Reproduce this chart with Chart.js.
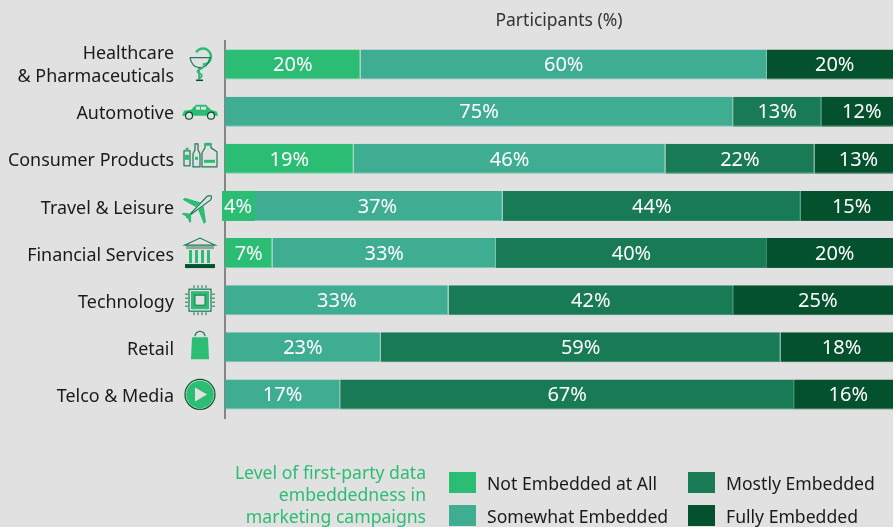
<!DOCTYPE html>
<html>
<head>
<meta charset="utf-8">
<style>
  html, body { margin: 0; padding: 0; background: #e1e1e1; overflow: hidden; }
  #wrap { width: 893px; height: 527px; }
</style>
<script src="https://cdn.jsdelivr.net/npm/chart.js@4"></script>
</head>
<body>
<div id="wrap"><canvas id="chart" width="893" height="527"></canvas></div>
<script>
const categories = [
  ['Healthcare', '& Pharmaceuticals'], 'Automotive', 'Consumer Products', 'Travel & Leisure',
  'Financial Services', 'Technology', 'Retail', 'Telco & Media'
];
const notEmbedded = [20, 0, 19, 4, 7, 0, 0, 0];
const somewhatEmbedded = [60, 75, 46, 37, 33, 33, 23, 17];
const mostlyEmbedded = [0, 13, 22, 44, 40, 42, 59, 67];
const fullyEmbedded = [20, 12, 13, 15, 20, 25, 18, 16];
const legendTitle = ['Level of first-party data', 'embeddedness in', 'marketing campaigns'];
const axisTitle = 'Participants (%)';

const GREEN = '#2bbd73', TEAL = '#3fad91', MID = '#197a56', DARK = '#03522d';
const FONT = '"Noto Sans", sans-serif';

function makeSet(label, data, color, edge) {
  return {
    label, data, backgroundColor: color, borderColor: edge,
    borderWidth: { top: 0, left: 0, right: 1, bottom: 1 }, borderSkipped: false, stack: 'a'
  };
}

// white % labels in the middle of each segment
const barLabels = {
  id: 'barLabels',
  afterDraw(chart) {
    const ctx = chart.ctx;
    const x = chart.scales.x;
    ctx.save();
    ctx.font = '20px ' + FONT;
    ctx.fillStyle = '#fff';
    ctx.textAlign = 'center';
    ctx.textBaseline = 'middle';
    chart.data.labels.forEach((c, i) => {
      let sum = 0;
      chart.data.datasets.forEach((ds, d) => {
        const v = ds.data[i];
        if (v > 0) {
          const px = x.getPixelForValue(sum + v / 2);
          const py = chart.getDatasetMeta(d).data[i].y;
          // the 4% segment is too narrow, so its label gets a green patch
          if (v < 5) {
            ctx.fillStyle = ds.backgroundColor;
            ctx.fillRect(222, py - 15, 33, 30);
            ctx.fillStyle = '#fff';
            ctx.fillText(v + '%', 238, py + 1);
          } else {
            ctx.fillText(v + '%', px, py + 1);
          }
        }
        sum += v;
      });
    });
    ctx.restore();
  }
};

// nudge the category labels down, the font sits high in its line box
const tickNudge = {
  id: 'tickNudge',
  beforeDraw(chart) {
    chart.scales.y.getLabelItems().forEach((item, i) => {
      item.options.translation[1] += i === 0 ? 1 : 2.5;
    });
  }
};

// icons next to the category labels
function drawIcon(ctx, i, cx, cy) {
  ctx.save();
  ctx.translate(cx, cy);
  ctx.lineWidth = 1.2;
  ctx.strokeStyle = MID;
  ctx.fillStyle = GREEN;
  const rect = (x, y, w, h, fill) => { ctx.fillStyle = fill || GREEN; ctx.fillRect(x, y, w, h); };
  if (i === 0) { // bowl of hygieia
    ctx.strokeStyle = GREEN; ctx.lineWidth = 2.5;
    ctx.beginPath(); ctx.arc(3, -8, 8, -2.6, 1.6); ctx.stroke();
    ctx.strokeStyle = MID; ctx.lineWidth = 1.2;
    ctx.beginPath(); ctx.moveTo(-10, -7); ctx.lineTo(10, -7); ctx.quadraticCurveTo(8, 3, 0, 3); ctx.quadraticCurveTo(-8, 3, -10, -7); ctx.stroke();
    ctx.beginPath(); ctx.moveTo(-1, 3); ctx.lineTo(-1, 15); ctx.stroke();
    ctx.strokeStyle = GREEN; ctx.lineWidth = 2;
    ctx.beginPath(); ctx.moveTo(3, 3); ctx.quadraticCurveTo(-6, 7, 0, 9); ctx.quadraticCurveTo(4, 11, -1, 14); ctx.stroke();
    rect(-4, 15, 7, 1.5, DARK);
  } else if (i === 1) { // car
    ctx.translate(0, 1);
    ctx.beginPath(); ctx.moveTo(-18, 3); ctx.lineTo(-16, -2); ctx.lineTo(-9, -3); ctx.lineTo(-4, -8); ctx.lineTo(6, -8); ctx.lineTo(11, -3); ctx.lineTo(17, -1); ctx.lineTo(18, 3); ctx.closePath(); ctx.fill();
    rect(-4, -6, 4, 3, '#e1e1e1'); rect(1, -6, 5, 3, '#e1e1e1');
    [-11, 11].forEach(w => { ctx.beginPath(); ctx.arc(w, 3, 3.5, 0, 7); ctx.fillStyle = '#e1e1e1'; ctx.fill(); ctx.strokeStyle = DARK; ctx.stroke(); });
  } else if (i === 2) { // bottles
    ctx.translate(0, -2);
    ctx.strokeStyle = MID;
    ctx.strokeRect(-16, -6, 6, 15); rect(-15, -2, 4, 5); rect(-14.5, -9, 3, 3);
    ctx.beginPath(); ctx.moveTo(-7, 10); ctx.lineTo(-7, -3); ctx.lineTo(-5, -7); ctx.lineTo(-5, -13); ctx.lineTo(-2, -13); ctx.lineTo(-2, -7); ctx.lineTo(0, -3); ctx.lineTo(0, 10); ctx.closePath(); ctx.stroke();
    rect(-5, 0, 3, 3);
    ctx.beginPath(); ctx.moveTo(2, 10); ctx.lineTo(2, -4); ctx.lineTo(5, -9); ctx.lineTo(5, -13); ctx.lineTo(11, -13); ctx.lineTo(11, -9); ctx.lineTo(17, -5); ctx.lineTo(17, 10); ctx.closePath(); ctx.stroke();
    rect(4, 3, 11, 3); rect(5, -14, 6, 3);
  } else if (i === 3) { // plane
    ctx.rotate(-0.72);
    ctx.strokeStyle = MID;
    ctx.beginPath(); ctx.moveTo(-18, 0); ctx.lineTo(12, -2.5); ctx.quadraticCurveTo(18, 0, 12, 2.5); ctx.closePath(); ctx.stroke();
    ctx.fillStyle = GREEN;
    ctx.beginPath(); ctx.moveTo(3, -2); ctx.lineTo(-6, -16); ctx.lineTo(-9, -16); ctx.lineTo(-4, -2); ctx.closePath(); ctx.fill();
    ctx.beginPath(); ctx.moveTo(3, 2); ctx.lineTo(-6, 16); ctx.lineTo(-9, 16); ctx.lineTo(-4, 2); ctx.closePath(); ctx.fill();
    ctx.beginPath(); ctx.moveTo(-12, 0); ctx.lineTo(-17, -6); ctx.lineTo(-19, -6); ctx.lineTo(-17, 0); ctx.lineTo(-19, 6); ctx.lineTo(-17, 6); ctx.closePath(); ctx.fill();
  } else if (i === 4) { // bank
    ctx.strokeStyle = MID;
    ctx.beginPath(); ctx.moveTo(-15, -8); ctx.lineTo(0, -15); ctx.lineTo(15, -8); ctx.closePath(); ctx.stroke();
    rect(-14, -7, 28, 3, '#8fa79b');
    [-11, -5, 1, 7].forEach(b => rect(b, -3, 3, 13));
    rect(-15, 11, 30, 4, DARK);
  } else if (i === 5) { // chip
    ctx.strokeStyle = MID;
    ctx.strokeRect(-11, -11, 22, 22);
    rect(-9, -9, 18, 18);
    rect(-5, -5, 10, 10, '#e1e1e1');
    ctx.lineWidth = 1;
    ctx.strokeRect(-5, -5, 10, 10);
    for (let k = -6; k <= 6; k += 4) {
      ctx.beginPath();
      ctx.moveTo(k, -15); ctx.lineTo(k, -12); ctx.moveTo(k, 12); ctx.lineTo(k, 15);
      ctx.moveTo(-15, k); ctx.lineTo(-12, k); ctx.moveTo(12, k); ctx.lineTo(15, k);
      ctx.stroke();
    }
  } else if (i === 6) { // bag
    ctx.beginPath(); ctx.moveTo(-8, -10); ctx.lineTo(8, -10); ctx.lineTo(9, 12); ctx.lineTo(-9, 12); ctx.closePath(); ctx.fill();
    ctx.strokeStyle = MID;
    ctx.beginPath(); ctx.arc(0, -11, 5, Math.PI, 0); ctx.stroke();
  } else { // play button
    ctx.beginPath(); ctx.arc(0, 0, 15, 0, 7); ctx.strokeStyle = DARK; ctx.stroke();
    ctx.beginPath(); ctx.arc(0, 0, 13.8, 0, 7); ctx.fill();
    ctx.fillStyle = '#e1e1e1';
    ctx.beginPath(); ctx.moveTo(-5, -7); ctx.lineTo(7, 0); ctx.lineTo(-5, 7); ctx.closePath(); ctx.fill();
  }
  ctx.restore();
}

const iconPlugin = {
  id: 'iconPlugin',
  afterDraw(chart) {
    const y = chart.scales.y;
    categories.forEach((c, i) => drawIcon(chart.ctx, i, 200, y.getPixelForValue(i)));
  }
};

// legend block under the plot
const legendBlock = {
  id: 'legendBlock',
  afterDraw(chart) {
    const ctx = chart.ctx;
    ctx.save();
    ctx.font = '17.6px ' + FONT;
    ctx.textBaseline = 'middle';
    ctx.textAlign = 'right';
    ctx.fillStyle = GREEN;
    legendTitle.forEach((t, i) => ctx.fillText(t, 426, 474 + i * 22));
    ctx.textAlign = 'left';
    const spots = [[449, 472], [449, 505], [688, 472], [688, 505]];
    chart.data.datasets.forEach((ds, i) => {
      ctx.fillStyle = ds.backgroundColor;
      ctx.fillRect(spots[i][0], spots[i][1], 27, 21);
      ctx.fillStyle = '#1a1a1a';
      ctx.fillText(ds.label, spots[i][0] + 38, spots[i][1] + 13);
    });
    ctx.restore();
  }
};

Chart.defaults.font.family = FONT;

new Chart(document.getElementById('chart').getContext('2d'), {
  type: 'bar',
  data: {
    labels: categories,
    datasets: [
      makeSet('Not Embedded at All', notEmbedded, GREEN, '#6fcfa5'),
      makeSet('Somewhat Embedded', somewhatEmbedded, TEAL, '#7cc4b0'),
      makeSet('Mostly Embedded', mostlyEmbedded, MID, '#2f8a6b'),
      makeSet('Fully Embedded', fullyEmbedded, DARK, '#1a6342')
    ]
  },
  plugins: [tickNudge, barLabels, iconPlugin, legendBlock],
  options: {
    indexAxis: 'y',
    responsive: false,
    animation: false,
    events: [],
    layout: { padding: { top: 0, right: 0, bottom: 109, left: 0 } },
    categoryPercentage: 1,
    barPercentage: 0.635,
    plugins: { legend: { display: false }, tooltip: { enabled: false } },
    scales: {
      x: {
        position: 'top',
        stacked: true,
        min: 0,
        max: 98.6,
        afterFit(axis) { axis.height = 41; },
        grid: { display: false },
        border: { display: false },
        ticks: { display: false },
        title: { display: true, text: axisTitle, color: '#333', font: { size: 17.5 }, padding: { top: 11, bottom: 0 } }
      },
      y: {
        stacked: true,
        afterFit(axis) { axis.width = 225; axis.paddingTop = 0; axis.paddingBottom = 0; },
        grid: { display: false, drawTicks: false },
        border: { color: '#858585', width: 2 },
        ticks: { color: '#1a1a1a', padding: 51, font: { size: 17.9, lineHeight: 1.3 }, autoSkip: false }
      }
    }
  }
});
</script>
</body>
</html>
